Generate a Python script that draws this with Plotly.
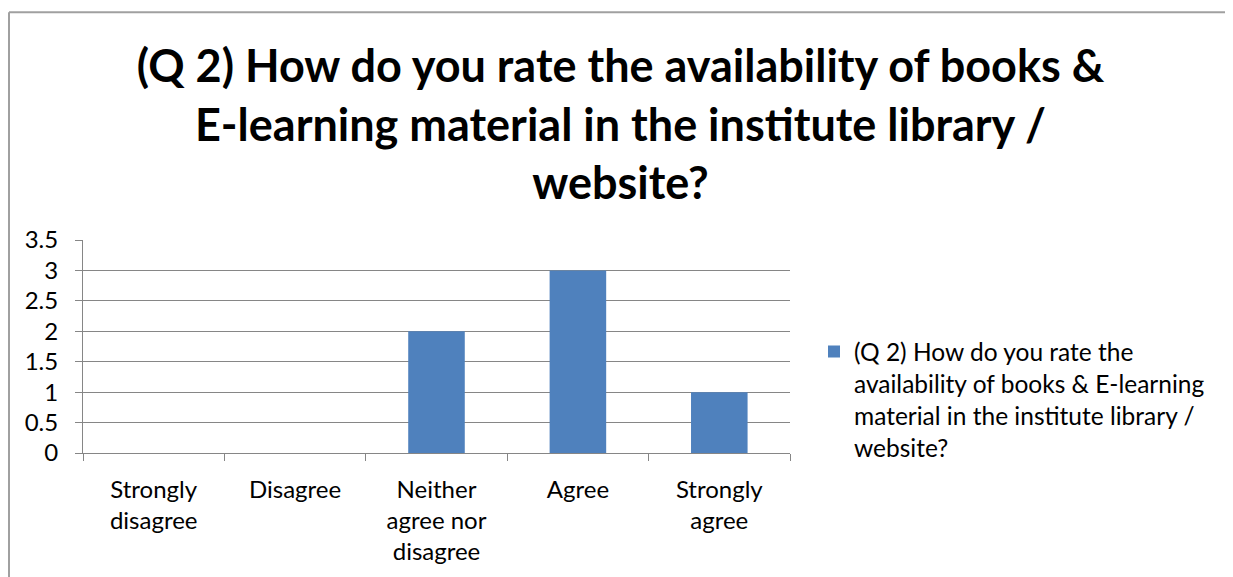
import plotly.graph_objects as go

categories = ["Strongly<br>disagree", "Disagree", "Neither<br>agree nor<br>disagree", "Agree", "Strongly<br>agree"]
values = [0, 0, 2, 3, 1]
series_name = "(Q 2) How do you rate the<br>availability of books & E-learning<br>material in the institute library /<br>website?"
title_text = "(Q 2) How do you rate the availability of books &<br>E-learning material in the institute library /<br>website?"
y_ticks = [0, 0.5, 1, 1.5, 2, 2.5, 3, 3.5]

# page has an 8px body margin, so the figure is sized to fill the rest of the window
W, H = 1225, 569
L, R, T, B = 75, 443, 232, 122
pw, ph = W - L - R, H - T - B

grey = "#868686"
font = "Lato, Calibri, Carlito, sans-serif"

fig = go.Figure()
fig.add_trace(go.Bar(
    x=categories, y=values, name=series_name,
    marker=dict(color="#4F81BD", line=dict(width=0)),
    width=0.4, showlegend=True,
))

fig.update_layout(
    width=W, height=H,
    margin=dict(l=L, r=R, t=T, b=B, pad=0),
    paper_bgcolor="white", plot_bgcolor="white",
    font=dict(family=font, size=24, color="black"),
    title=dict(text="<b>" + title_text + "</b>", x=0.5, xanchor="center",
               xref="container", y=1 - 74 / H, yref="container", yanchor="middle",
               font=dict(family=font, size=45, color="black")),
    showlegend=True,
    legend=dict(x=(806 - L) / pw, xanchor="left", y=(447 - 322) / ph, yanchor="top",
                valign="top", font=dict(size=24.5, family=font), bgcolor="rgba(0,0,0,0)",
                borderwidth=0),
    xaxis=dict(type="category", range=[-0.5, 4.5], showline=True, linecolor=grey, linewidth=1,
               ticks="outside", tickson="boundaries", ticklen=7, tickcolor=grey, tickwidth=1,
               showgrid=False, tickfont=dict(size=24, family=font), ticklabelstandoff=15,
               fixedrange=True),
    yaxis=dict(range=[0, 3.5], tickvals=y_ticks, showline=True, linecolor=grey, linewidth=1,
               ticks="outside", ticklen=7, tickcolor=grey, tickwidth=1,
               showgrid=True, gridcolor=grey, gridwidth=1, zeroline=False,
               tickfont=dict(size=24, family=font), ticklabelstandoff=12, fixedrange=True),
    bargap=0.6,
)

# chart border (left and top edges visible)
x0 = (1 - L) / pw
y_top = 1 + (T - 2) / ph
fig.add_shape(type="line", xref="paper", yref="paper", x0=x0, x1=x0, y0=y_top, y1=-0.7,
              line=dict(color="#A0A0A0", width=2))
fig.add_shape(type="line", xref="paper", yref="paper", x0=x0, x1=1.8, y0=y_top, y1=y_top,
              line=dict(color="#A0A0A0", width=2))

fig.write_html("out.html")
